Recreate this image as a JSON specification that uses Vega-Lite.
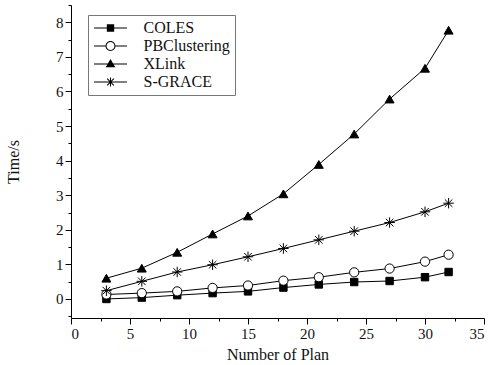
{
  "$schema": "https://vega.github.io/schema/vega-lite/v6.json",
  "width": 413,
  "height": 313,
  "autosize": {"type": "none"},
  "padding": {"left": 71, "top": 5, "right": 10, "bottom": 47},
  "background": "white",
  "config": {
    "view": {"stroke": null},
    "font": "Liberation Serif, Times New Roman, serif",
    "axis": {
      "domainColor": "black", "domainWidth": 1, "tickColor": "black", "tickWidth": 1,
      "labelFont": "Liberation Serif, Times New Roman, serif", "labelFontSize": 15, "labelColor": "#111",
      "titleFont": "Liberation Serif, Times New Roman, serif", "titleFontSize": 16, "titleFontWeight": "normal", "titleColor": "#111",
      "grid": false
    }
  },
  "data": {
    "values": [
      {"plan": 3, "series": "COLES", "time": 0.0},
      {"plan": 6, "series": "COLES", "time": 0.04},
      {"plan": 9, "series": "COLES", "time": 0.11},
      {"plan": 12, "series": "COLES", "time": 0.17},
      {"plan": 15, "series": "COLES", "time": 0.22},
      {"plan": 18, "series": "COLES", "time": 0.33},
      {"plan": 21, "series": "COLES", "time": 0.42},
      {"plan": 24, "series": "COLES", "time": 0.49},
      {"plan": 27, "series": "COLES", "time": 0.52},
      {"plan": 30, "series": "COLES", "time": 0.63},
      {"plan": 32, "series": "COLES", "time": 0.78},
      {"plan": 3, "series": "PBClustering", "time": 0.13},
      {"plan": 6, "series": "PBClustering", "time": 0.17},
      {"plan": 9, "series": "PBClustering", "time": 0.22},
      {"plan": 12, "series": "PBClustering", "time": 0.32},
      {"plan": 15, "series": "PBClustering", "time": 0.39},
      {"plan": 18, "series": "PBClustering", "time": 0.53},
      {"plan": 21, "series": "PBClustering", "time": 0.63},
      {"plan": 24, "series": "PBClustering", "time": 0.77},
      {"plan": 27, "series": "PBClustering", "time": 0.88},
      {"plan": 30, "series": "PBClustering", "time": 1.08},
      {"plan": 32, "series": "PBClustering", "time": 1.28},
      {"plan": 3, "series": "XLink", "time": 0.6},
      {"plan": 6, "series": "XLink", "time": 0.89},
      {"plan": 9, "series": "XLink", "time": 1.35},
      {"plan": 12, "series": "XLink", "time": 1.88},
      {"plan": 15, "series": "XLink", "time": 2.4},
      {"plan": 18, "series": "XLink", "time": 3.04},
      {"plan": 21, "series": "XLink", "time": 3.89},
      {"plan": 24, "series": "XLink", "time": 4.77},
      {"plan": 27, "series": "XLink", "time": 5.78},
      {"plan": 30, "series": "XLink", "time": 6.67},
      {"plan": 32, "series": "XLink", "time": 7.77},
      {"plan": 3, "series": "S-GRACE", "time": 0.24},
      {"plan": 6, "series": "S-GRACE", "time": 0.51},
      {"plan": 9, "series": "S-GRACE", "time": 0.78},
      {"plan": 12, "series": "S-GRACE", "time": 0.99},
      {"plan": 15, "series": "S-GRACE", "time": 1.22},
      {"plan": 18, "series": "S-GRACE", "time": 1.46},
      {"plan": 21, "series": "S-GRACE", "time": 1.71},
      {"plan": 24, "series": "S-GRACE", "time": 1.96},
      {"plan": 27, "series": "S-GRACE", "time": 2.21},
      {"plan": 30, "series": "S-GRACE", "time": 2.52},
      {"plan": 32, "series": "S-GRACE", "time": 2.77}
    ]
  },
  "encoding": {
    "x": {"field": "plan", "type": "quantitative", "scale": {"domain": [0, 35], "nice": false, "zero": false}, "axis": null},
    "y": {"field": "time", "type": "quantitative", "scale": {"domain": [-0.55, 8.5], "nice": false, "zero": false}, "axis": null}
  },
  "layer": [
    {
      "mark": {"type": "line", "color": "black", "strokeWidth": 1},
      "encoding": {
        "x": {"field": "plan", "type": "quantitative",
              "axis": {"values": [0, 5, 10, 15, 20, 25, 30, 35], "tickSize": 6, "labelPadding": 2, "title": "Number of  Plan", "titlePadding": 5, "orient": "bottom"}},
        "y": {"field": "time", "type": "quantitative",
              "axis": {"values": [0, 1, 2, 3, 4, 5, 6, 7, 8], "tickSize": 6, "labelPadding": 2, "title": "Time/s", "titlePadding": 34, "orient": "left"}},
        "detail": {"field": "series"}
      }
    },
    {
      "transform": [{"filter": "datum.series == 'COLES'"}],
      "mark": {"type": "point", "shape": "square", "filled": true, "fill": "black", "stroke": "black", "strokeWidth": 1, "size": 55, "opacity": 1},
      "encoding": {
        "x": {"field": "plan", "type": "quantitative",
              "axis": {"values": [2.5, 7.5, 12.5, 17.5, 22.5, 27.5, 32.5], "tickSize": 3, "labels": false, "domain": false, "title": null, "orient": "bottom"}},
        "y": {"field": "time", "type": "quantitative",
              "axis": {"values": [-0.5, 0.5, 1.5, 2.5, 3.5, 4.5, 5.5, 6.5, 7.5, 8.5], "tickSize": 3, "labels": false, "domain": false, "title": null, "orient": "left"}}
      }
    },
    {
      "transform": [{"filter": "datum.series == 'PBClustering'"}],
      "mark": {"type": "point", "shape": "circle", "filled": true, "fill": "white", "stroke": "black", "strokeWidth": 1, "size": 85, "opacity": 1}
    },
    {
      "transform": [{"filter": "datum.series == 'XLink'"}],
      "mark": {"type": "point", "shape": "triangle-up", "filled": true, "fill": "black", "stroke": "black", "strokeWidth": 1, "size": 80, "opacity": 1}
    },
    {
      "transform": [{"filter": "datum.series == 'S-GRACE'"}],
      "mark": {"type": "point", "shape": "M -1 0 L 1 0 M 0 -1 L 0 1 M -0.72 -0.72 L 0.72 0.72 M -0.72 0.72 L 0.72 -0.72", "filled": false, "stroke": "black", "strokeWidth": 1, "size": 110, "opacity": 1}
    },
    {
      "mark": {"type": "point", "filled": true, "fill": "black", "strokeWidth": 0, "opacity": 0},
      "encoding": {
        "shape": {"field": "series", "type": "nominal",
                  "scale": {"domain": ["COLES", "PBClustering", "XLink", "S-GRACE"],
                            "range": [
                              "M -2.06 -0.065 L 2.06 -0.065 L 2.06 0.065 L -2.06 0.065 Z M -0.46 -0.46 L 0.46 -0.46 L 0.46 0.46 L -0.46 0.46 Z",
                              "M -2.06 -0.065 L -0.56 -0.065 L -0.56 0.065 L -2.06 0.065 Z M 0.56 -0.065 L 2.06 -0.065 L 2.06 0.065 L 0.56 0.065 Z M -0.62 0 A 0.62 0.62 0 1 1 0.62 0 A 0.62 0.62 0 1 1 -0.62 0 Z M -0.5 0 A 0.5 0.5 0 1 0 0.5 0 A 0.5 0.5 0 1 0 -0.5 0 Z",
                              "M -2.06 -0.065 L 2.06 -0.065 L 2.06 0.065 L -2.06 0.065 Z M 0 -0.62 L 0.6 0.42 L -0.6 0.42 Z",
                              "M -2.06 -0.065 L 2.06 -0.065 L 2.06 0.065 L -2.06 0.065 Z M -0.065 -0.55 L 0.065 -0.55 L 0.065 0.55 L -0.065 0.55 Z M -0.374 -0.466 L 0.466 0.374 L 0.374 0.466 L -0.466 -0.374 Z M -0.466 0.374 L 0.374 -0.466 L 0.466 -0.374 L -0.374 0.466 Z"
                            ]},
                  "legend": {"title": null, "orient": "none", "legendX": 17, "legendY": 10,
                             "symbolSize": 256, "symbolStrokeWidth": 0, "symbolFillColor": "black", "symbolOpacity": 1,
                             "symbolOffset": 9.5,
                             "labelFont": "Liberation Serif, Times New Roman, serif", "labelFontSize": 16, "labelColor": "#111", "labelOffset": 25,
                             "strokeColor": "#777", "fillColor": "white", "padding": 5, "rowPadding": 2}}
      }
    }
  ],
  "resolve": {"axis": {"x": "independent", "y": "independent"}}
}
